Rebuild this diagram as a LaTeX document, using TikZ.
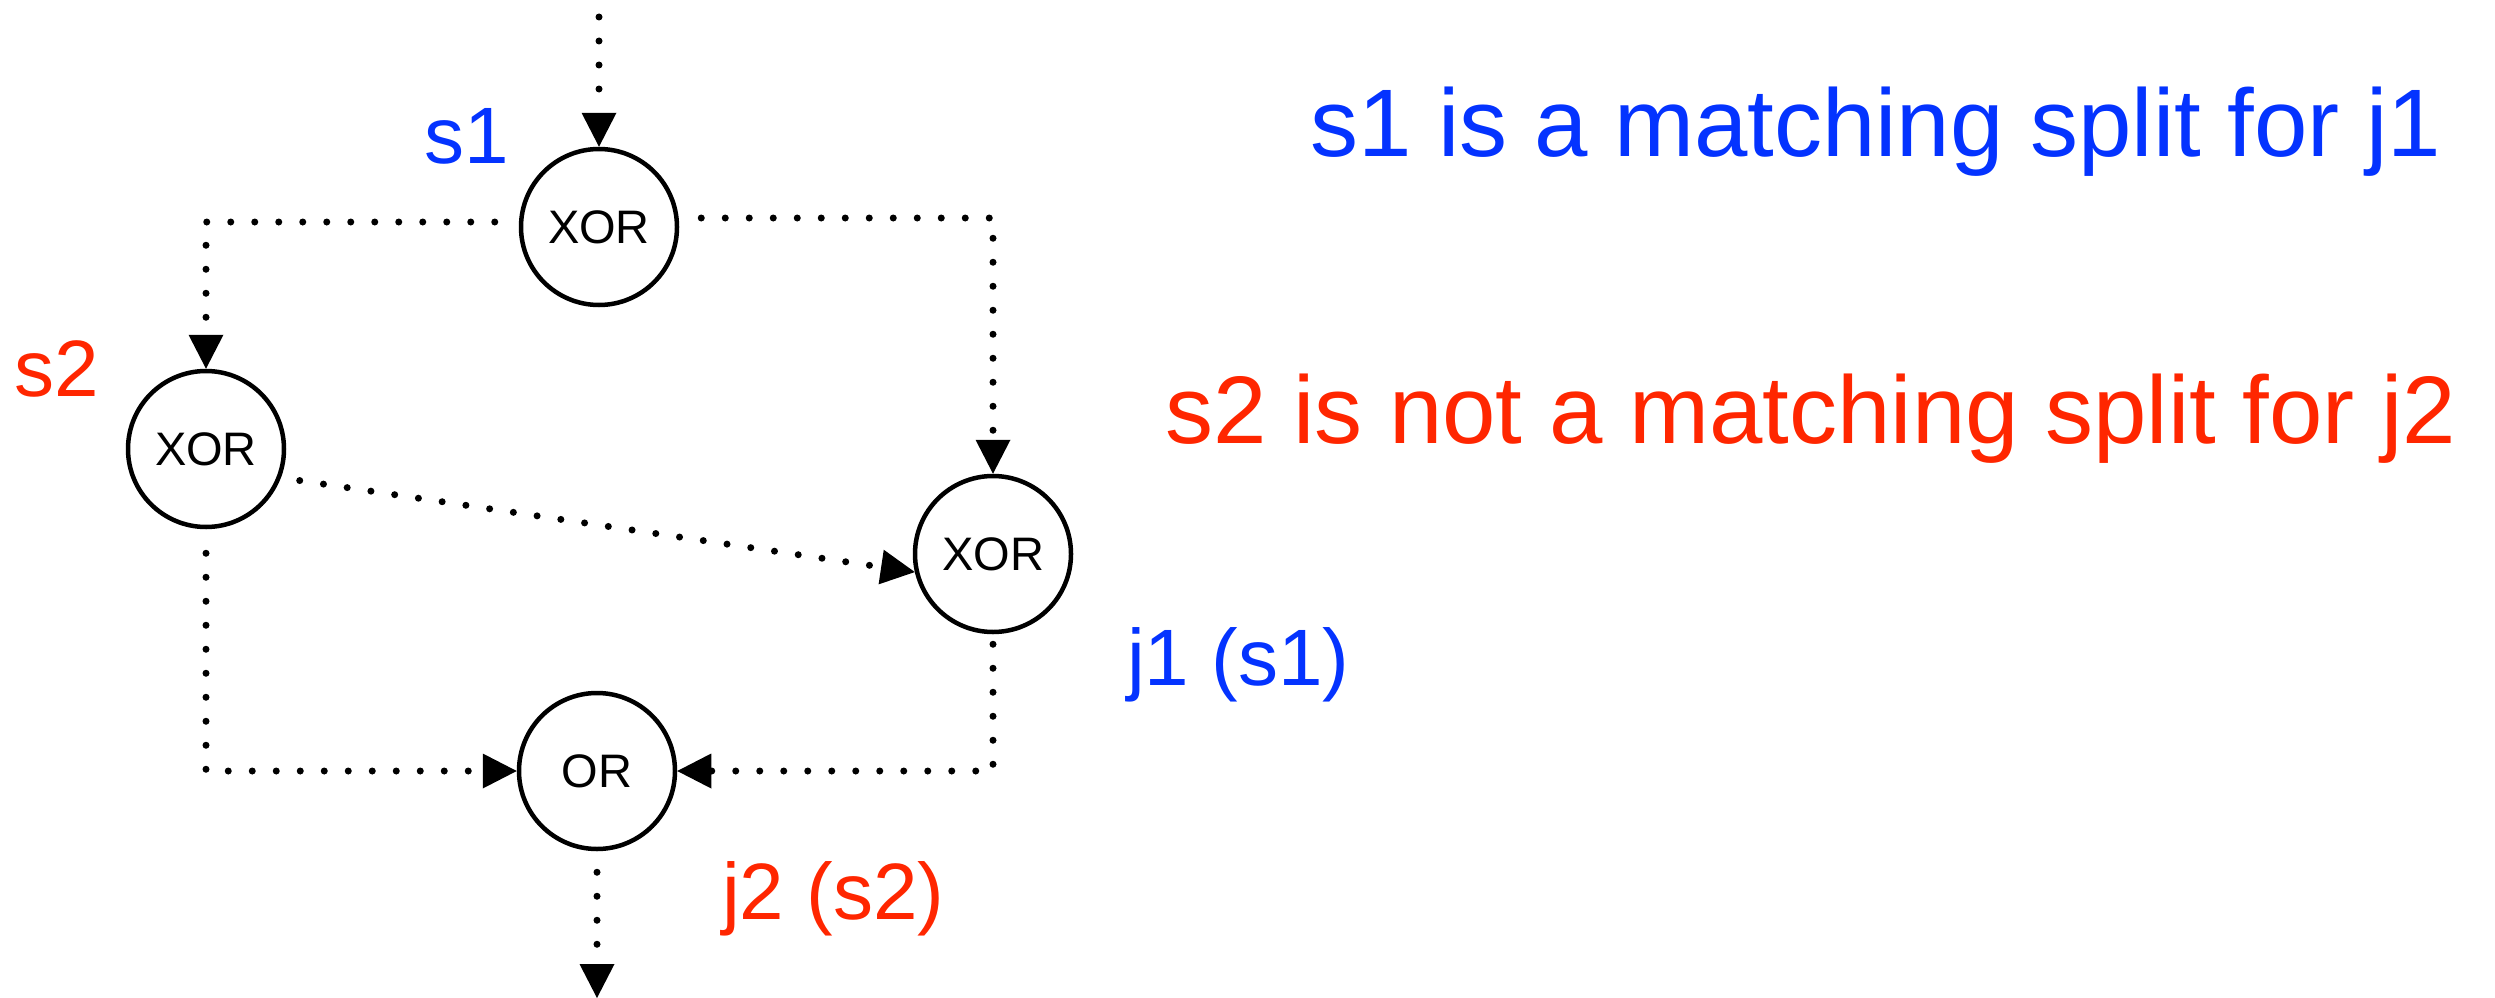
\documentclass[tikz,border=0pt]{standalone}
\usepackage{fontspec}
\setmainfont{Liberation Sans}
\usetikzlibrary{arrows.meta}
\definecolor{myblue}{RGB}{4,51,255}
\definecolor{myred}{RGB}{255,38,0}
\begin{document}
\begin{tikzpicture}[x=1pt,y=-1pt,
  gate/.style={circle,draw=black,line width=4.5pt,minimum size=156pt,inner sep=0pt,font=\fontsize{47}{56}\selectfont},
  flow/.style={line width=7pt,line cap=round,dash pattern=on 0pt off 24pt,-{Triangle[length=34pt,width=35pt,line width=0pt]}},
  lbl/.style={font=\fontsize{80}{96}\selectfont,anchor=base west,inner sep=0pt},
  big/.style={font=\fontsize{96}{115}\selectfont,anchor=base west,inner sep=0pt}]
\useasboundingbox (0,0) rectangle (2495,998);
\node[gate] (s1) at (599,227) {XOR};
\node[gate] (s2) at (206,449) {XOR};
\node[gate] (j1) at (993,554) {XOR};
\node[gate] (j2) at (597,771) {OR};
\coordinate (in) at (599,17);
\coordinate (out) at (597,998);
\draw[flow] (in) -- (s1.north);
\draw[flow,shorten <=24pt] ([yshift=5pt]s1.west) -| (s2.north);
\draw[flow,shorten <=22pt] ([yshift=9pt]s1.east) -| (j1.north);
\draw[flow,shorten <=19pt] (s2.-21) -- (j1.193);
\draw[flow,shorten <=24pt] (s2.south) |- (j2.west);
\draw[flow,shorten <=10pt] (j1.south) |- (j2.east);
\draw[flow,shorten <=21pt] (j2.south) -- (out);
\node[lbl,text=myblue] (ls1) at (424,163) {s1};
\node[lbl,text=myred] (ls2) at (14,396) {s2};
\node[lbl,text=myblue] (lj1) at (1127,685) {j1 (s1)};
\node[lbl,text=myred] (lj2) at (722,919) {j2 (s2)};
\node[big,text=myblue] (t1) at (1310,156) {s1 is a matching split for j1};
\node[big,text=myred] (t2) at (1165,443) {s2 is not a matching split for j2};
\end{tikzpicture}
\end{document}
